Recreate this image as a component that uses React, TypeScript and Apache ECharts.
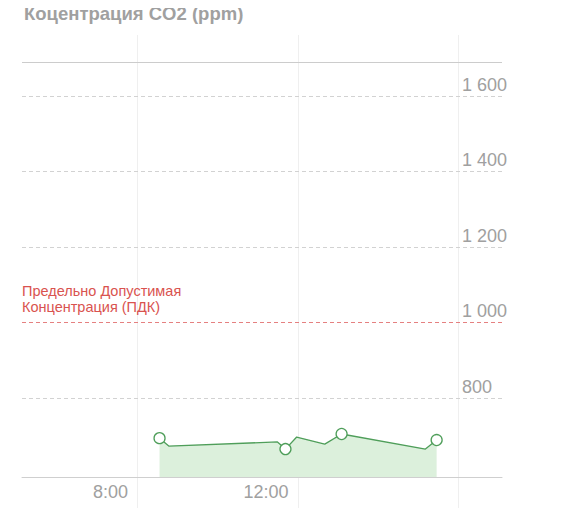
import React, { useEffect, useRef } from "react";
import * as echarts from "echarts";

// time of day in hours, CO2 in ppm
const times = [8.56, 8.79, 11.5, 11.7, 11.98, 12.68, 13.1, 15.19, 15.47];
const co2 = [693, 672, 683, 664, 696, 677, 704, 664, 688];
// which points carry a circle marker
const markedPoints = [0, 3, 6, 8];
const timeLabels = [8, 12];
const hourLines = [8, 12, 16];
const yTicks = [800, 1000, 1200, 1400, 1600];
const limitValue = 1000;
const limitLabel = "Предельно Допустимая\nКонцентрация (ПДК)";
const title = "Коцентрация CO2 (ppm)";

const X_MIN = 5.13;
const X_MAX = 17.1;
const Y_MIN = 590;
const Y_MAX = 1690;

const GREY = "#a0a0a0";
const FONT = "'Liberation Sans', Arial, sans-serif";

const App = () => {
  const chartRef = useRef<HTMLDivElement>(null);

  useEffect(() => {
    if (!chartRef.current) return;
    const chart = echarts.init(chartRef.current, null, { renderer: "svg" });

    const points = times.map((t, i) => ({
      value: [t, co2[i]],
      symbolSize: markedPoints.includes(i) ? 11 : 0,
    }));

    // dashed grey lines at the labelled ticks, the limit line is drawn red on top
    const gridLines = yTicks.map((v) => ({
      yAxis: v,
      lineStyle: { color: "#d2d2d2", type: [4, 3], width: 1 },
      label: { show: false },
    }));

    const options = {
      animation: false,
      title: {
        text: title,
        left: 24,
        top: 4,
        padding: 0,
        textStyle: { fontFamily: FONT, fontSize: 18.5, fontWeight: "bold", color: GREY },
      },
      grid: [
        { left: 22, right: 83, top: 62, bottom: 39 },
        { left: 137.5, right: 127, top: 35, bottom: 6 },
      ],
      xAxis: [
        {
          gridIndex: 0,
          type: "value",
          min: X_MIN,
          max: X_MAX,
          splitLine: { show: false },
          axisTick: { show: false },
          axisLine: { show: true, lineStyle: { color: "#cfcfcf", width: 1 } },
          axisLabel: {
            customValues: timeLabels,
            formatter: (v: number) => `${v}:00`,
            align: "right",
            margin: 6,
            padding: [0, 9, 0, 0],
            color: GREY,
            fontFamily: FONT,
            fontSize: 18,
          },
        },
        {
          gridIndex: 1,
          type: "value",
          min: hourLines[0],
          max: hourLines[hourLines.length - 1],
          interval: 4,
          axisLine: { show: false },
          axisTick: { show: false },
          axisLabel: { show: false },
          splitLine: { show: true, lineStyle: { color: "#efefef", width: 1 } },
        },
      ],
      yAxis: [
        {
          gridIndex: 0,
          type: "value",
          position: "right",
          min: Y_MIN,
          max: Y_MAX,
          splitNumber: 5,
          axisLine: { show: false },
          axisTick: { show: false },
          splitLine: { show: false },
          axisLabel: {
            inside: true,
            align: "left",
            verticalAlign: "bottom",
            margin: 40,
            padding: [0, 0, 2, 0],
            color: GREY,
            fontFamily: FONT,
            fontSize: 18,
            formatter: (v: number) =>
              yTicks.includes(v) ? String(v).replace(/\B(?=(\d{3})+(?!\d))/g, " ") : "",
          },
        },
        {
          gridIndex: 1,
          type: "value",
          show: false,
          min: 0,
          max: 1,
        },
      ],
      series: [
        {
          type: "line",
          xAxisIndex: 0,
          yAxisIndex: 0,
          data: points,
          symbol: "circle",
          showAllSymbol: true,
          lineStyle: { color: "#4f9e5a", width: 1.3 },
          itemStyle: { color: "#ffffff", borderColor: "#4f9e5a", borderWidth: 1.3 },
          areaStyle: { color: "#dcf0dc", opacity: 1, origin: "start" },
          z: 3,
          markLine: {
            silent: true,
            symbol: "none",
            data: [
              ...gridLines,
              {
                yAxis: limitValue,
                lineStyle: { color: "#e58080", type: [4, 3], width: 1 },
                label: {
                  show: true,
                  position: "insideStartTop",
                  formatter: limitLabel,
                  color: "#d9534f",
                  fontFamily: FONT,
                  fontSize: 14.5,
                  lineHeight: 16,
                  distance: [0, 7],
                },
              },
              {
                yAxis: Y_MAX,
                lineStyle: { color: "#cccccc", type: "solid", width: 1 },
                label: { show: false },
              },
            ],
          },
        },
      ],
    };

    chart.setOption(options as any);
    return () => chart.dispose();
  }, []);

  return <div ref={chartRef} style={{ width: "585px", height: "516px", margin: "-8px" }} />;
};

export default App;
